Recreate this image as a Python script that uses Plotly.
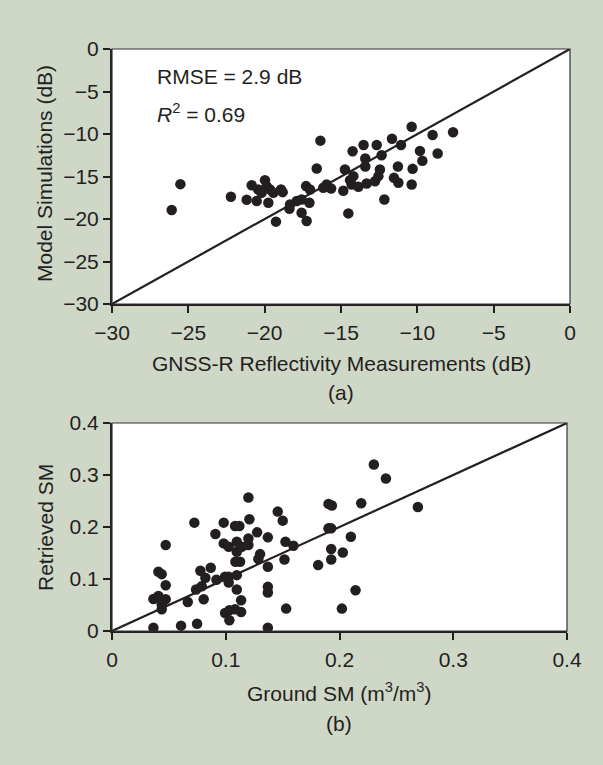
import plotly.graph_objects as go

# ---------- data ----------
# Panel (a): GNSS-R reflectivity measurements vs model simulations (dB)
meas_db = [-26.09, -25.52, -22.21, -21.18, -20.85, -19.98, -20.42, -20.20, -19.87, -20.52,
           -19.76, -19.43, -18.93, -19.26, -18.34, -18.38, -17.90, -17.58, -17.58, -17.25,
           -17.07, -17.29, -17.03, -16.59, -16.35, -16.16, -15.94, -15.65, -14.85, -14.74,
           -14.52, -14.30, -14.19, -13.86, -14.24, -13.52, -13.41, -13.41, -13.32, -12.77,
           -12.55, -12.66, -12.45, -12.34, -12.16, -11.66, -11.53, -11.24, -11.27, -11.07,
           -10.37, -10.37, -10.31, -9.83, -9.67, -9.00, -8.67, -7.66, -14.41, -19.65,
           -18.82]
sim_db = [-18.95, -15.90, -17.38, -17.73, -16.02, -15.43, -16.52, -16.91, -16.13, -17.89,
          -18.09, -16.91, -16.52, -20.31, -18.28, -18.79, -17.89, -17.70, -19.26, -20.23,
          -18.09, -16.13, -16.52, -14.06, -10.78, -16.33, -15.94, -16.41, -16.68, -14.18,
          -19.34, -15.94, -14.96, -16.21, -12.03, -11.29, -12.89, -13.83, -15.82, -15.55,
          -14.96, -11.29, -14.18, -12.50, -17.70, -10.55, -15.16, -15.74, -13.83, -11.29,
          -9.14, -15.94, -14.10, -11.99, -13.16, -10.12, -12.30, -9.80, -15.43, -16.52,
          -16.84]

# Panel (b): ground SM vs retrieved SM
ground_sm = [0.0364, 0.0607, 0.0748, 0.1370, 0.0364, 0.0408, 0.0472, 0.0437, 0.0437, 0.0472,
             0.0408, 0.0437, 0.0472, 0.0666, 0.0724, 0.0739, 0.0777, 0.0806, 0.0821, 0.0789,
             0.0868, 0.0909, 0.0918, 0.0982, 0.0982, 0.0994, 0.1026, 0.1026, 0.1026, 0.0994,
             0.1032, 0.1032, 0.1082, 0.1120, 0.1097, 0.1097, 0.1085, 0.1097, 0.1097, 0.1082,
             0.1135, 0.1135, 0.1126, 0.1141, 0.1199, 0.1208, 0.1199, 0.1199, 0.1276, 0.1302,
             0.1287, 0.1370, 0.1370, 0.1370, 0.1370, 0.1457, 0.1501, 0.1525, 0.1516, 0.1531,
             0.1595, 0.1812, 0.1903, 0.1933, 0.1903, 0.1927, 0.1927, 0.1927, 0.2029, 0.2100,
             0.2021, 0.2141, 0.2191, 0.2302, 0.2408, 0.2689]
retrieved_sm = [0.0064, 0.0103, 0.0141, 0.0064, 0.0617, 0.0675, 0.0611, 0.0508, 0.0418, 0.0881,
                0.1138, 0.1093, 0.1653, 0.0559, 0.2084, 0.0797, 0.1158, 0.0611, 0.1023, 0.0862,
                0.1215, 0.1865, 0.0984, 0.2084, 0.1685, 0.1042, 0.1621, 0.1042, 0.0932, 0.0347,
                0.0399, 0.0206, 0.2019, 0.2019, 0.1717, 0.1524, 0.1331, 0.1074, 0.0797, 0.0418,
                0.0367, 0.0592, 0.1331, 0.1621, 0.1781, 0.2148, 0.2566, 0.1653, 0.1897, 0.1479,
                0.1383, 0.1801, 0.1235, 0.0849, 0.0740, 0.2296, 0.2122, 0.1717, 0.1376, 0.0431,
                0.1640, 0.1267, 0.2444, 0.2412, 0.1974, 0.1974, 0.1576, 0.1376, 0.1511, 0.1814,
                0.0431, 0.0785, 0.2457, 0.3203, 0.2932, 0.2386]

# 1:1 reference lines
one_to_one_a = [-30, 0]
one_to_one_b = [0, 0.4]

ticks_a = [-30, -25, -20, -15, -10, -5, 0]
ticks_b = [0, 0.1, 0.2, 0.3, 0.4]
tick_text_b = ["0", "0.1", "0.2", "0.3", "0.4"]

# ---------- styling ----------
W, H = 603, 765
BG = "#CFD7C7"
INK = "#231F20"
FONT = "Arial, Liberation Sans, sans-serif"
FS = 21

def px_x(p):
    return p / W

def px_y(p):
    return 1 - p / H

fig = go.Figure()

fig.add_trace(go.Scatter(x=one_to_one_a, y=one_to_one_a, mode="lines",
                         line=dict(color=INK, width=2.2), xaxis="x", yaxis="y",
                         showlegend=False, hoverinfo="skip"))
fig.add_trace(go.Scatter(x=meas_db, y=sim_db, mode="markers",
                         marker=dict(color=INK, size=10.5), xaxis="x", yaxis="y",
                         showlegend=False))
fig.add_trace(go.Scatter(x=one_to_one_b, y=one_to_one_b, mode="lines",
                         line=dict(color=INK, width=2.2), xaxis="x2", yaxis="y2",
                         showlegend=False, hoverinfo="skip"))
fig.add_trace(go.Scatter(x=ground_sm, y=retrieved_sm, mode="markers",
                         marker=dict(color=INK, size=10.5), xaxis="x2", yaxis="y2",
                         showlegend=False))

axis_common = dict(showgrid=False, zeroline=False, showline=True, linecolor=INK,
                   linewidth=2, ticks="outside", ticklen=7, tickwidth=1.5,
                   tickcolor=INK, tickfont=dict(family=FONT, size=FS, color=INK),
                   mirror=False, fixedrange=True, automargin=False)
xaxis_extra = dict(ticklabelstandoff=2)

fig.update_layout(
    template="none",
    width=W, height=H,
    margin=dict(l=0, r=0, t=0, b=0, pad=0),
    paper_bgcolor=BG, plot_bgcolor="white",
    font=dict(family=FONT, size=FS, color=INK),
    showlegend=False,
    xaxis=dict(domain=[px_x(112), px_x(570)], range=[-30, 0], tickvals=ticks_a,
               anchor="y", **axis_common, **xaxis_extra),
    yaxis=dict(domain=[px_y(304), px_y(49)], range=[-30, 0], tickvals=ticks_a,
               anchor="x", **axis_common),
    xaxis2=dict(domain=[px_x(112), px_x(567)], range=[0, 0.4], tickvals=ticks_b,
                ticktext=tick_text_b, anchor="y2", **axis_common, **xaxis_extra),
    yaxis2=dict(domain=[px_y(631), px_y(423)], range=[0, 0.4], tickvals=ticks_b,
                ticktext=tick_text_b, anchor="x2", **axis_common),
)

# thin frame on top/right
for xr, yr in (("x", "y"), ("x2", "y2")):
    fig.add_shape(type="rect", xref=f"{xr} domain", yref=f"{yr} domain",
                  x0=0, x1=1, y0=0, y1=1, line=dict(color="#333333", width=1.2),
                  layer="above")

def note(text, x, y, **kw):
    fig.add_annotation(text=text, x=px_x(x), y=px_y(y), xref="paper", yref="paper",
                       showarrow=False, font=dict(family=FONT, size=FS, color=INK), **kw)

note("RMSE = 2.9 dB", 155, 77, xanchor="left", yanchor="middle")
note("<i>R</i><sup>2</sup> = 0.69", 155, 113, xanchor="left", yanchor="middle")
note("GNSS-R Reflectivity Measurements (dB)", 341, 363, xanchor="center", yanchor="middle")
note("(a)", 341, 393, xanchor="center", yanchor="middle")
note("Model Simulations (dB)", 45, 174, xanchor="center", yanchor="middle", textangle=-90)
note("Ground SM (m<sup>3</sup>/m<sup>3</sup>)", 339, 692, xanchor="center", yanchor="middle")
note("(b)", 339, 723, xanchor="center", yanchor="middle")
note("Retrieved SM", 45, 527, xanchor="center", yanchor="middle", textangle=-90)

fig.write_html("out.html")
